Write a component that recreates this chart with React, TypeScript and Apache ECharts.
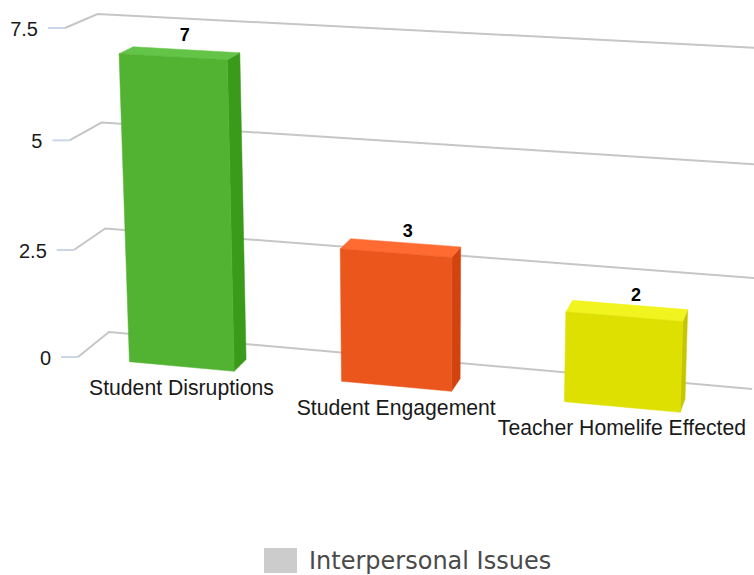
import React, { useEffect, useRef } from 'react';
import * as echarts from 'echarts';

const categories = ['Student Disruptions', 'Student Engagement', 'Teacher Homelife Effected'];
const values = [7, 3, 2];
const yTicks = [0, 2.5, 5, 7.5];
const yMax = 7.5;
const seriesName = 'Interpersonal Issues';

const palette = [
  { front: '#52b232', side: '#3a9a1a', top: '#64c447' },
  { front: '#eb561c', side: '#d34310', top: '#ff6b31' },
  { front: '#dde000', side: '#c6c600', top: '#f1f41e' },
];

// perspective camera (fitted): screen = (O + A*[X,Y,Z]) / (1 + W*[X,Y,Z])
const CAM = {
  ox: 78,
  oy: 357,
  ax: [202.6, -2.045, 34.9],
  ay: [10.2, -44.0, -13.0],
  w: [-0.02406, -0.0048, 0.0362],
};
const BAR_HALF = 0.25;
const BAR_DEPTH = 0.45;
const X_END = 3.02;

function project(X: number, Y: number, Z: number): number[] {
  const w = 1 + CAM.w[0] * X + CAM.w[1] * Y + CAM.w[2] * Z;
  return [
    (CAM.ox + CAM.ax[0] * X + CAM.ax[1] * Y + CAM.ax[2] * Z) / w,
    (CAM.oy + CAM.ay[0] * X + CAM.ay[1] * Y + CAM.ay[2] * Z) / w,
  ];
}

const FONT = "'Liberation Sans', Arial, Helvetica, sans-serif";

function toWorld(api: any, cat: number, val: number) {
  const c = api.coord([cat, val]);
  const band = api.size([1, 0])[0];
  const base = api.coord([cat, 0]);
  const top = api.coord([cat, yMax]);
  const X = c[0] / band;
  const Y = (yMax * (base[1] - c[1])) / (base[1] - top[1]);
  return { X, Y };
}

export default function App() {
  const ref = useRef<HTMLDivElement>(null);
  useEffect(() => {
    if (!ref.current) return;
    const chart = echarts.init(ref.current, null, { renderer: 'svg' });
    const option: any = {
      animation: false,
      grid: { left: 0, top: 0, width: 300, height: 300, show: false },
      xAxis: { type: 'category', data: categories, show: false },
      yAxis: { type: 'value', min: 0, max: yMax, interval: 2.5, show: false },
      series: [
        {
          type: 'custom',
          name: 'grid',
          clip: false,
          silent: true,
          z: 1,
          data: yTicks.map((v) => [0, v]),
          renderItem: (params: any, api: any) => {
            const v = api.value(1);
            const { Y } = toWorld(api, 0, v);
            const f = project(0, Y, 0);
            const b = project(0, Y, 1);
            const r = project(X_END, Y, 1);
            return {
              type: 'group',
              children: [
                {
                  type: 'polyline',
                  shape: { points: [f, b, r] },
                  style: { stroke: '#c6c6c6', lineWidth: 2, fill: null },
                },
                {
                  type: 'line',
                  shape: { x1: f[0] - 17, y1: f[1], x2: f[0], y2: f[1] },
                  style: { stroke: '#ccd6eb', lineWidth: 2 },
                },
                {
                  type: 'text',
                  x: f[0] - 27,
                  y: f[1] + 1,
                  style: {
                    text: String(v),
                    font: `20px ${FONT}`,
                    fill: '#1a1a1a',
                    textAlign: 'right',
                    textVerticalAlign: 'middle',
                  },
                },
              ],
            };
          },
        },
        {
          type: 'custom',
          name: seriesName,
          clip: false,
          z: 2,
          data: values.map((v, i) => [i, v]),
          renderItem: (params: any, api: any) => {
            const i = api.value(0);
            const v = api.value(1);
            const { X, Y } = toWorld(api, i, v);
            const x0 = X - BAR_HALF;
            const x1 = X + BAR_HALF;
            const D = BAR_DEPTH;
            const col = palette[params.dataIndex % palette.length];
            const front = [project(x0, 0, 0), project(x1, 0, 0), project(x1, Y, 0), project(x0, Y, 0)];
            const side = [project(x1, 0, 0), project(x1, 0, D), project(x1, Y, D), project(x1, Y, 0)];
            const topF = [project(x0, Y, 0), project(x1, Y, 0), project(x1, Y, D), project(x0, Y, D)];
            const lab = project(X, Y, 0);
            const catPos = project(X, 0, 0);
            return {
              type: 'group',
              children: [
                { type: 'polygon', shape: { points: side }, style: { fill: col.side, stroke: col.side, lineWidth: 0.5 } },
                { type: 'polygon', shape: { points: topF }, style: { fill: col.top, stroke: col.top, lineWidth: 0.5 } },
                { type: 'polygon', shape: { points: front }, style: { fill: col.front, stroke: col.front, lineWidth: 0.5 } },
                {
                  type: 'text',
                  x: lab[0] + 12,
                  y: lab[1] - 22,
                  style: {
                    text: String(v),
                    font: `bold 18px ${FONT}`,
                    fill: '#000000',
                    textAlign: 'center',
                    textVerticalAlign: 'middle',
                  },
                },
                {
                  type: 'text',
                  x: catPos[0],
                  y: catPos[1] + 21,
                  style: {
                    text: categories[i],
                    font: `21.2px ${FONT}`,
                    fill: '#1a1a1a',
                    textAlign: 'center',
                    textVerticalAlign: 'middle',
                  },
                },
              ],
            };
          },
        },
      ],
      graphic: [
        {
          type: 'rect',
          left: 264,
          top: 548,
          shape: { width: 33, height: 25 },
          style: { fill: '#cccccc' },
        },
        {
          type: 'text',
          left: 309,
          top: 549,
          style: {
            text: seriesName,
            font: "24px 'DejaVu Sans', sans-serif",
            fill: '#4a4a4a',
          },
        },
      ],
    };
    chart.setOption(option);
    return () => chart.dispose();
  }, []);
  return (
    <div
      ref={ref}
      style={{ position: 'fixed', left: 0, top: 0, width: 754, height: 575, background: '#ffffff' }}
    />
  );
}
